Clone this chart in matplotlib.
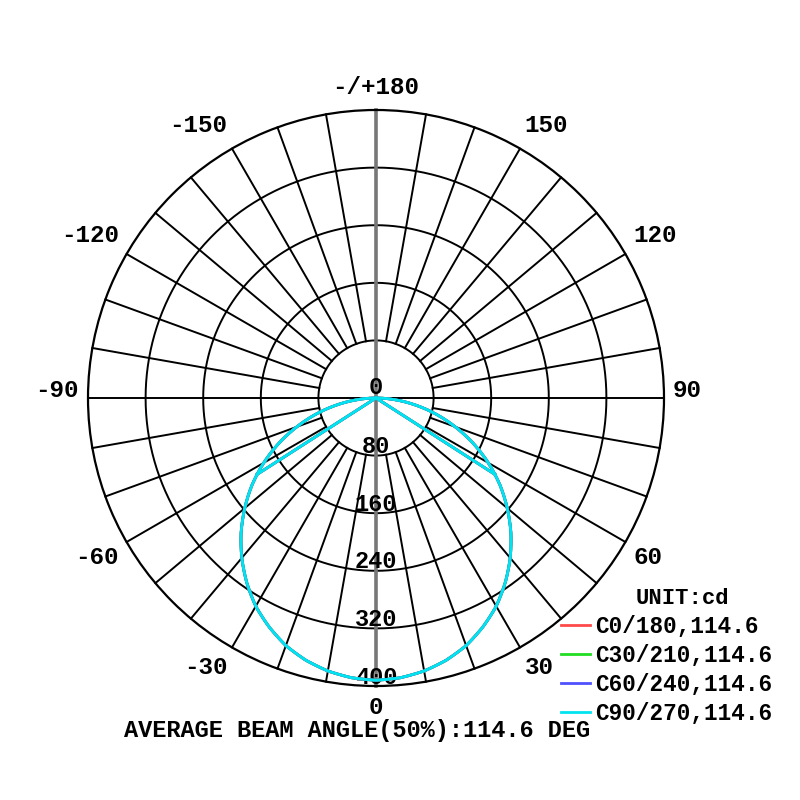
import numpy as np
import matplotlib
matplotlib.use("Agg")
import matplotlib.pyplot as plt

# gamma angles (deg) and intensity (cd), same on every C-plane
gamma = [0, 5, 10, 15, 20, 25, 30, 35, 40, 45, 50, 55, 60, 65, 70, 75, 80, 85, 90]
i_c0 = [392, 390, 385, 377, 366, 351, 334, 313, 290, 265, 238, 210, 180, 149, 117, 86, 55, 25, 0]
i_c30 = [392, 390, 385, 377, 366, 351, 334, 313, 290, 265, 238, 210, 180, 149, 117, 86, 55, 25, 0]
i_c60 = [392, 390, 385, 377, 366, 351, 334, 313, 290, 265, 238, 210, 180, 149, 117, 86, 55, 25, 0]
i_c90 = [392, 390, 385, 377, 366, 351, 334, 313, 290, 265, 238, 210, 180, 149, 117, 86, 55, 25, 0]
planes = ["C0/180", "C30/210", "C60/240", "C90/270"]
beam_angles = [114.6, 114.6, 114.6, 114.6]
colors = ["#ff4a4a", "#22dd22", "#5050ff", "#00e4f0"]

ring_values = [80, 160, 240, 320, 400]
angle_labels = [0, 30, 60, 90, 120, 150, 180, -150, -120, -90, -60, -30]

plt.rcParams["font.family"] = ["Liberation Mono", "DejaVu Sans Mono"]
plt.rcParams["font.weight"] = "bold"

W = 800
fig = plt.figure(figsize=(8, 8), dpi=100)
ax = fig.add_axes([0.11, 0.1425, 0.72, 0.72], projection="polar")
ax.set_theta_zero_location("S")
ax.set_theta_direction(1)
ax.set_ylim(0, 400)
ax.grid(False)
ax.set_xticks([])
ax.set_yticks([])
ax.spines["polar"].set_linewidth(1.6)
ax.spines["polar"].set_color("black")

# rings
th = np.linspace(0, 2 * np.pi, 361)
for r in ring_values[:-1]:
    ax.plot(th, [r] * len(th), color="black", lw=1.4, zorder=1)

# spokes every 10 deg, from the inner ring out; the axes go through the centre
for a in range(0, 360, 10):
    t = np.deg2rad(a)
    if a in (0, 180):
        ax.plot([t, t], [0, 400], color="#777777", lw=2.6, zorder=1, clip_on=False)
    elif a in (90, 270):
        ax.plot([t, t], [0, 400], color="black", lw=1.4, zorder=1, clip_on=False)
    else:
        ax.plot([t, t], [80, 400], color="black", lw=1.4, zorder=1, clip_on=False)

# ring labels
ax.annotate("0", (0, 0), xytext=(0, 10), textcoords="offset pixels",
            ha="center", va="center", fontsize=17)
for r in ring_values:
    ax.annotate(str(r), (0, r), xytext=(0, 9), textcoords="offset pixels",
                ha="center", va="center", fontsize=17)

# angle labels: text starts just outside the rim, heights as in the original
cx, cy, rim = 376, 398, 297
label_y = {180: 88, 150: 126, 120: 235, 90: 390, 60: 558, 30: 668, 0: 708}
for a in angle_labels:
    txt = "-/+180" if a == 180 else str(a)
    x = cx + rim * np.sin(np.deg2rad(a))
    if a in (0, 180):
        x, ha = cx, "center"
    elif a > 0:
        ha = "left"
    else:
        ha = "right"
    fig.text(x / W, 1 - label_y[abs(a)] / W, txt, ha=ha, va="center", fontsize=17.5)

# curves
for name, vals, ba, col in zip(planes, [i_c0, i_c30, i_c60, i_c90], beam_angles, colors):
    g = np.deg2rad(np.concatenate([-np.array(gamma[::-1]), np.array(gamma[1:])]))
    v = vals[::-1] + vals[1:]
    ln, = ax.plot(g, v, color=col, lw=2, zorder=3, label=f"{name},{ba}")
    ln.get_path()._interpolation_steps = 40
    half = ba / 2
    hv = np.interp(half, gamma, vals)
    ax.plot(np.deg2rad([-half, -half, half, half]), [hv, 0, 0, hv], color=col, lw=2, zorder=3)

leg = ax.legend(loc="upper left", bbox_to_anchor=(561 / W, 1 - 615 / W),
                bbox_transform=fig.transFigure, frameon=False, borderpad=0,
                borderaxespad=0, handlelength=1.3, handletextpad=0.2,
                labelspacing=0.26, prop={"size": 16.3, "weight": "bold"})
fig.text(682 / W, 1 - 598 / W, "UNIT:cd", ha="center", va="center",
         fontsize=16, fontweight="heavy")

fig.text(357 / W, 1 - 731 / W, "AVERAGE BEAM ANGLE(50%):114.6 DEG",
         ha="center", va="center", fontsize=17, fontweight="bold")

fig.savefig("out.png", dpi=100, facecolor="white")
